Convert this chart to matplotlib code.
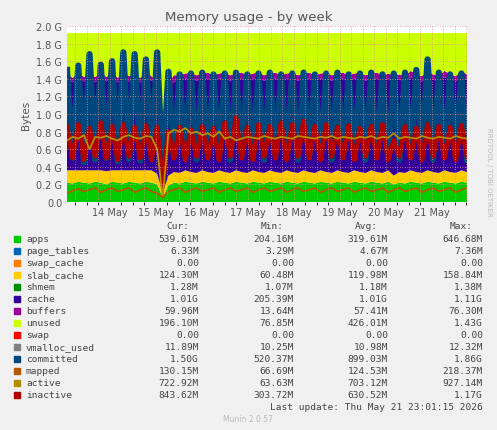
import matplotlib
matplotlib.use("Agg")
import matplotlib.pyplot as plt
import matplotlib.dates as mdates
import numpy as np
import pandas as pd

total = 1.92
apps = [0.22,0.21,0.23,0.22,0.21,0.23,0.22,0.20,0.23,0.22,0.21,0.23,0.22,0.21,0.23,0.22,0.20,0.05,0.19,0.22,
        0.21,0.23,0.22,0.21,0.23,0.22,0.21,0.23,0.22,0.21,0.23,0.22,0.21,0.23,0.22,0.21,0.23,0.22,0.21,0.23,
        0.22,0.21,0.23,0.22,0.21,0.23,0.22,0.21,0.23,0.22,0.21,0.23,0.22,0.21,0.23,0.22,0.21,0.23,0.20,0.22,
        0.21,0.23,0.22,0.21,0.23,0.22,0.21,0.23,0.22,0.21,0.23,0.22]
slab = [0.14,0.15,0.13,0.14,0.15,0.13,0.14,0.15,0.13,0.14,0.15,0.13,0.14,0.15,0.13,0.14,0.12,0.06,0.11,0.12,
        0.12,0.13,0.12,0.12,0.13,0.12,0.12,0.13,0.12,0.12,0.13,0.12,0.12,0.13,0.12,0.12,0.13,0.12,0.12,0.13,
        0.12,0.12,0.13,0.12,0.12,0.13,0.12,0.12,0.13,0.12,0.12,0.13,0.12,0.12,0.13,0.12,0.12,0.13,0.10,0.12,
        0.12,0.13,0.12,0.12,0.13,0.12,0.12,0.13,0.12,0.12,0.13,0.12]
cache = [1.05,1.00,1.06,1.01,1.04,1.00,1.06,1.02,1.05,1.00,1.06,1.01,1.04,1.00,1.06,1.02,1.00,0.20,1.00,1.03,
         1.05,1.04,1.06,1.05,1.04,1.06,1.05,1.04,1.06,1.05,1.04,1.06,1.05,1.04,1.06,1.05,1.04,1.06,1.05,1.04,
         1.06,1.05,1.04,1.06,1.05,1.04,1.06,1.05,1.04,1.06,1.05,1.04,1.06,1.05,1.04,1.06,1.05,1.04,1.08,1.05,
         1.04,1.06,1.05,1.04,1.06,1.05,1.04,1.06,1.05,1.04,1.06,1.05]
buffers = [0.05,0.05,0.06,0.05,0.05,0.06,0.05,0.05,0.06,0.05,0.05,0.06,0.05,0.05,0.06,0.05,0.04,0.01,0.06,0.07,
           0.06,0.06,0.07,0.06,0.06,0.07,0.06,0.06,0.07,0.06,0.06,0.07,0.06,0.06,0.07,0.06,0.06,0.07,0.06,0.06,
           0.07,0.06,0.06,0.07,0.06,0.06,0.07,0.06,0.06,0.07,0.06,0.06,0.07,0.06,0.06,0.07,0.06,0.06,0.06,0.06,
           0.06,0.07,0.06,0.06,0.07,0.06,0.06,0.07,0.06,0.06,0.07,0.06]
committed = [1.50,0.50,1.55,0.45,1.68,0.48,1.56,0.50,1.60,0.46,1.70,0.49,1.68,0.47,1.62,0.50,1.70,0.30,1.48,0.52,
             1.45,0.50,1.46,0.48,1.47,0.52,1.45,0.50,1.46,0.48,1.47,0.52,1.45,0.50,1.46,0.48,1.47,0.52,1.45,0.50,
             1.46,0.48,1.47,0.52,1.45,0.50,1.46,0.48,1.47,0.52,1.45,0.50,1.46,0.48,1.47,0.52,1.45,0.50,1.46,0.48,
             1.47,0.52,1.50,0.50,1.62,0.48,1.47,0.52,1.45,0.50,1.46,0.48]
inactive = [0.85,0.50,0.88,0.48,0.84,0.52,0.90,0.50,0.86,0.48,0.88,0.52,0.85,0.50,0.87,0.48,0.85,0.20,0.80,0.50,
            0.85,0.48,0.82,0.52,0.86,0.50,0.84,0.48,0.90,0.52,0.96,0.50,0.85,0.48,0.88,0.52,0.86,0.50,0.90,0.48,
            0.88,0.52,0.92,0.50,0.86,0.48,0.88,0.52,0.85,0.50,0.87,0.48,0.84,0.52,0.86,0.50,0.88,0.48,0.70,0.52,
            0.86,0.50,0.84,0.48,0.88,0.52,0.86,0.50,0.85,0.48,0.87,0.52]
active = [0.70,0.74,0.72,0.76,0.60,0.74,0.73,0.75,0.72,0.70,0.74,0.76,0.73,0.72,0.75,0.74,0.60,0.05,0.78,0.82,
          0.80,0.84,0.78,0.80,0.76,0.78,0.74,0.80,0.72,0.74,0.70,0.72,0.74,0.73,0.72,0.75,0.73,0.72,0.74,0.73,
          0.72,0.75,0.74,0.73,0.72,0.74,0.73,0.75,0.72,0.74,0.73,0.72,0.74,0.73,0.75,0.72,0.74,0.73,0.78,0.72,
          0.74,0.73,0.72,0.75,0.73,0.72,0.74,0.73,0.72,0.75,0.73,0.72]
mapped = [0.10,0.13,0.15,0.12,0.14,0.16,0.11,0.14,0.16,0.12,0.14,0.16,0.11,0.14,0.16,0.12,0.10,0.05,0.12,0.14,
          0.16,0.11,0.14,0.16,0.12,0.14,0.16,0.11,0.14,0.16,0.12,0.14,0.16,0.11,0.14,0.16,0.12,0.14,0.16,0.11,
          0.14,0.16,0.12,0.14,0.16,0.11,0.14,0.16,0.12,0.14,0.16,0.11,0.14,0.16,0.12,0.14,0.16,0.11,0.14,0.16,
          0.12,0.14,0.16,0.11,0.14,0.16,0.12,0.14,0.16,0.11,0.14,0.16]

names = ["apps","page_tables","swap_cache","slab_cache","shmem","cache","buffers","unused","swap",
         "vmalloc_used","committed","mapped","active","inactive"]
colors = ["#00CC00","#0066B3","#FF8000","#FFCC00","#008F00","#330099","#990099","#CCFF00","#FF0000",
          "#808080","#00487D","#B35A00","#B38F00","#B30000"]
cur = ["539.61M","6.33M","0.00","124.30M","1.28M","1.01G","59.96M","196.10M","0.00","11.89M","1.50G","130.15M","722.92M","843.62M"]
mins = ["204.16M","3.29M","0.00","60.48M","1.07M","205.39M","13.64M","76.85M","0.00","10.25M","520.37M","66.69M","63.63M","303.72M"]
avgs = ["319.61M","4.67M","0.00","119.98M","1.18M","1.01G","57.41M","426.01M","0.00","10.98M","899.03M","124.53M","703.12M","630.52M"]
maxs = ["646.68M","7.36M","0.00","158.84M","1.38M","1.11G","76.30M","1.43G","0.00","12.32M","1.86G","218.37M","927.14M","1.17G"]

n = len(apps)
t = pd.date_range("2026-05-13 01:40", "2026-05-21 18:30", periods=n)
a = np.array(apps); s = np.array(slab); c = np.array(cache); b = np.array(buffers)
unused = total - a - s - c - b

W, H = 497, 431
fig = plt.figure(figsize=(W/100, H/100), dpi=100, facecolor="#F0F0F0")
ax = fig.add_axes([67/W, 1-203/H, 400/W, 176/H])
ax.set_facecolor("white")
ax.stackplot(t, a, s, c, b, unused, colors=["#00CC00","#FFCC00","#330099","#990099","#CCFF00"], linewidth=0)
ax.plot(t, committed, color="#00487D", lw=4.5)
ax.plot(t, inactive, color="#B30000", lw=3.5)
ax.plot(t, active, color="#B38F00", lw=1.3)
ax.plot(t, mapped, color="#B35A00", lw=1.3)
ax.set_xlim(t[0], t[-1]); ax.set_ylim(0, 2.0)
ax.set_yticks(np.arange(0, 2.01, 0.2))
ax.set_yticklabels(["0.0"] + [f"{v:.1f} G" for v in np.arange(0.2, 2.01, 0.2)])
ax.xaxis.set_major_locator(mdates.DayLocator())
ax.xaxis.set_major_formatter(mdates.DateFormatter("%d %b"))
ax.xaxis.set_minor_locator(mdates.HourLocator(byhour=[6,12,18]))
ax.grid(True, which="both", color="#E09090", ls=(0,(1,2)), lw=0.6)
ax.set_axisbelow(False)
ax.tick_params(labelsize=7, colors="#555555", length=0)
for sp in ax.spines.values(): sp.set_visible(False)
ax.set_ylabel("Bytes", fontsize=7.5, color="#555555")
fig.text(0.5, 1-18/H, "Memory usage - by week", ha="center", va="center", fontsize=9.5, color="#555555")
fig.text(1-8/W, 0.6, "RRDTOOL / TOBI OETIKER", rotation=270, fontsize=5, color="#BBBBBB", ha="center", va="center")

mono = dict(family="DejaVu Sans Mono", fontsize=6.8, color="#444444", va="center")
y0 = 227
for x, h in [(199, "Cur:"), (294, "Min:"), (388, "Avg:"), (483, "Max:")]:
    fig.text((x-10)/W, 1-y0/H, h, ha="right", **mono)
for i, nm in enumerate(names):
    y = 240 + i*12
    fig.patches.append(plt.Rectangle((14/W, 1-(y+3)/H), 6/W, 6/H, transform=fig.transFigure, color=colors[i]))
    fig.text(26/W, 1-y/H, nm, ha="left", **mono)
    for x, v in [(199, cur[i]), (294, mins[i]), (388, avgs[i]), (483, maxs[i])]:
        fig.text(x/W, 1-y/H, v, ha="right", **mono)
fig.text(483/W, 1-408/H, "Last update: Thu May 21 23:01:15 2026", ha="right", **mono)
fig.text(248/W, 1-420/H, "Munin 2.0.57", ha="center", va="center", fontsize=5.5, color="#BBBBBB")
fig.savefig("out.png", dpi=100, facecolor=fig.get_facecolor())
